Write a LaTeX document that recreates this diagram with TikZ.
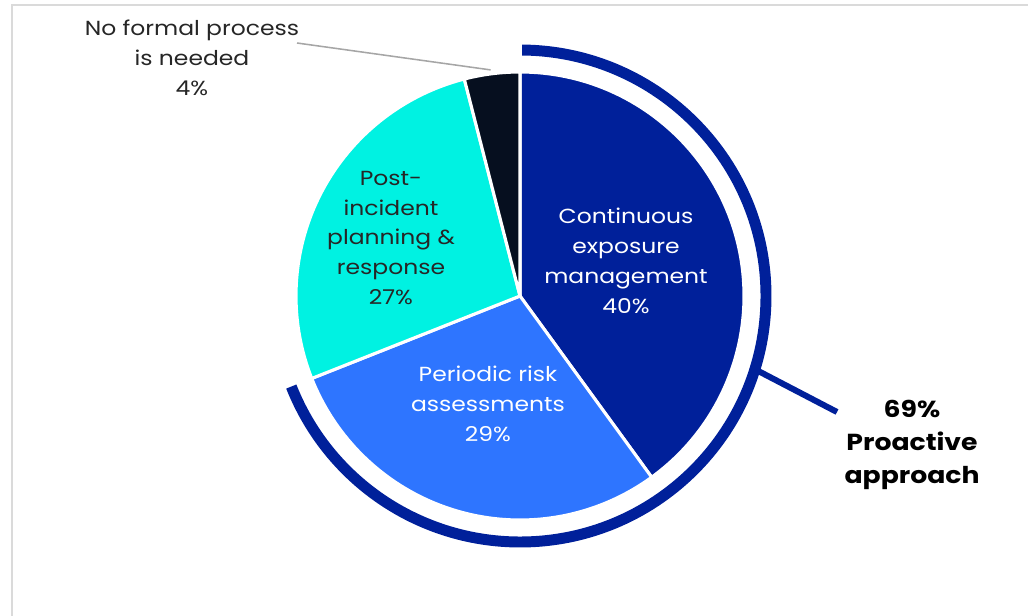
\documentclass[tikz,border=0pt]{standalone}
\usepackage{fontspec}
\setmainfont{Poppins}[FakeStretch=1.15]
\usetikzlibrary{calc}
\definecolor{contblue}{HTML}{00209A}
\definecolor{periblue}{HTML}{2E75FF}
\definecolor{postcyan}{HTML}{00F2E2}
\definecolor{nofonavy}{HTML}{060F1F}
\definecolor{framegray}{HTML}{DADADA}
\begin{document}
\begin{tikzpicture}[slice/.style={draw=white, line width=2.2pt, line join=round},
	lbl/.style={align=center, font=\fontsize{14.5}{21.3}\selectfont},
	band/.style={draw=contblue, line width=7.8pt}]
\useasboundingbox (0,0) rectangle (25.7,15.375);
\draw[framegray, line width=1.4pt] (0.3,-0.2) -- (0.3,15.25) -- (25.9,15.25);
\coordinate (c) at (13,7.975);
% slices, clockwise from the top
\fill[contblue, slice] (c) -- ++(90:5.6) arc (90:-54:5.6) -- cycle;
\fill[periblue, slice] (c) -- ++(-54:5.6) arc (-54:-158.4:5.6) -- cycle;
\fill[postcyan, slice] (c) -- ++(-158.4:5.6) arc (-158.4:-255.6:5.6) -- cycle;
\fill[nofonavy, slice] (c) -- ++(104.4:5.6) arc (104.4:90:5.6) -- cycle;
% outer band
\draw[band] (c) ++(89.5:6.15) arc (89.5:-158.4:6.15);
\coordinate (t1) at ($(c)+(-17.4:6.2)$);
\coordinate (t2) at (20.925,5.075);
\draw[contblue, line width=4.3pt] (t1) -- (t2);
\coordinate (edge) at ($(c)+(97.4:5.7)$);
\node[lbl, white] (cont) at (15.65,8.85) {Continuous\\exposure\\management\\40\%};
\node[lbl, white] (peri) at (12.2,5.275) {Periodic risk\\assessments\\29\%};
\node[lbl, black!85] (post) at (9.775,9.425) {Post-\\incident\\planning \&\\response\\27\%};
\node[lbl, black!85] (nofo) at (4.8,13.925) {No formal process\\is needed\\4\%};
\node[align=center, font=\fontsize{16.5}{23.4}\selectfont\bfseries] (proa) at (22.8,4.25) {69\%\\Proactive\\approach};
\draw[black!35, line width=1.1pt] (7.425,14.3) -- (edge);
\end{tikzpicture}
\end{document}
